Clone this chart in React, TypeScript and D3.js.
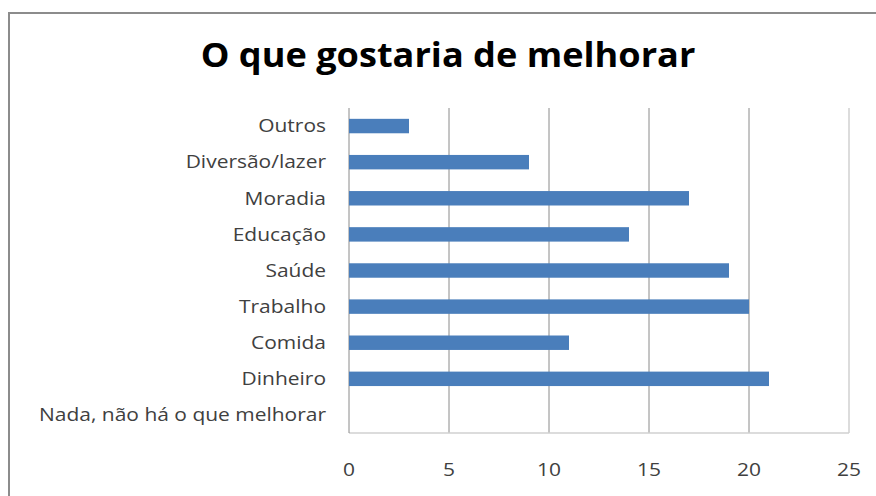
import React from "react";
import * as d3 from "d3";

const categories = [
  "Outros",
  "Diversão/lazer",
  "Moradia",
  "Educação",
  "Saúde",
  "Trabalho",
  "Comida",
  "Dinheiro",
  "Nada, não há o que melhorar",
];
const values = [3, 9, 17, 14, 19, 20, 11, 21, 0];
const xTicks = [0, 5, 10, 15, 20, 25];
const title = "O que gostaria de melhorar";

const W = 876;
const H = 496;
const plot = { left: 349, right: 849, top: 108, bottom: 433 };
const SX = 1.165;

export default function App() {
  const x = d3.scaleLinear().domain([0, 25]).range([plot.left, plot.right]);
  const y = d3
    .scaleBand<string>()
    .domain(categories)
    .range([plot.top, plot.bottom])
    .paddingInner(0.6)
    .paddingOuter(0.3);

  const font = "'Open Sans', 'Noto Sans', sans-serif";

  return (
    <svg
      width={W}
      height={H}
      style={{ position: "absolute", left: 0, top: 0, background: "#fff" }}
    >
      <rect x={9} y={13} width={W + 10} height={H + 10} fill="#fff" stroke="#8c8c8c" strokeWidth={2} />
      <text
        transform={`translate(448,67) scale(1.063,1)`}
        textAnchor="middle"
        fontFamily={font}
        fontWeight="bold"
        fontSize={34}
        fill="#000"
      >
        {title}
      </text>

      {/* gridlines */}
      {xTicks
        .filter((t) => t > 0 && t < 25)
        .map((t) => (
          <line key={t} x1={x(t)} x2={x(t)} y1={plot.top} y2={plot.bottom} stroke="#8a8a8a" strokeWidth={1} />
        ))}
      <line x1={x(25)} x2={x(25)} y1={plot.top} y2={plot.bottom} stroke="#d0d0d0" strokeWidth={1.5} />
      <line x1={plot.left} x2={plot.right} y1={plot.bottom} y2={plot.bottom} stroke="#d0d0d0" strokeWidth={1.5} />
      <line x1={x(0)} x2={x(0)} y1={plot.top} y2={plot.bottom} stroke="#8a8a8a" strokeWidth={1} />

      {/* bars */}
      {categories.map((c, i) => (
        <rect
          key={c}
          x={x(0)}
          y={y(c)!}
          width={x(values[i]) - x(0)}
          height={y.bandwidth()}
          fill="#4a7ebb"
        />
      ))}

      {/* category labels */}
      {categories.map((c) => (
        <text
          key={c}
          transform={`translate(326,${y(c)! + y.bandwidth() / 2}) scale(${SX},1)`}
          dy="0.35em"
          textAnchor="end"
          fontFamily={font}
          fontSize={18}
          fill="#404040"
        >
          {c}
        </text>
      ))}

      {/* x tick labels */}
      {xTicks.map((t) => (
        <text
          key={t}
          transform={`translate(${x(t)},470) scale(${SX},1)`}
          dy="0.35em"
          textAnchor="middle"
          fontFamily={font}
          fontSize={18}
          fill="#404040"
        >
          {t}
        </text>
      ))}
    </svg>
  );
}
